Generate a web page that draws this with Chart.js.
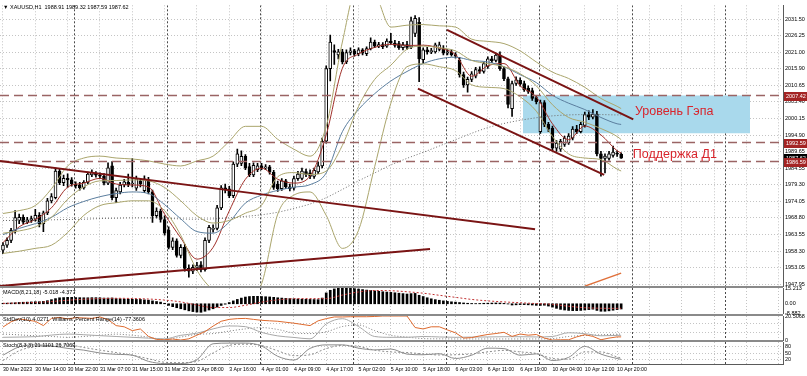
<!DOCTYPE html>
<html><head><meta charset="utf-8">
<script src="https://cdn.jsdelivr.net/npm/chart.js@4.4.0/dist/chart.umd.min.js"></script>
<style>
html,body{margin:0;padding:0;background:#fff;}
#wrap{position:relative;width:807px;height:376px;overflow:hidden;background:#fff;}
#wrap canvas{position:absolute;left:0;top:0;}
.sep{position:absolute;left:0;width:783px;height:2px;background:#8a8a8a;}
</style></head><body>
<div id="wrap">
<canvas id="cMain" width="807" height="376"></canvas>
<canvas id="cMacd" width="807" height="376"></canvas>
<canvas id="cStd" width="807" height="376"></canvas>
<canvas id="cSto" width="807" height="376"></canvas>
<div class="sep" style="top:286px"></div>
<div class="sep" style="top:314px"></div>
<div class="sep" style="top:340px"></div>
</div>
<script>
// ---------------- DATA ----------------
const symbolTitle = '▼ XAUUSD,H1  1988.91 1989.32 1987.59 1987.62';
const timeLabels = ['30 Mar 2023','30 Mar 14:00','30 Mar 22:00','31 Mar 07:00','31 Mar 15:00','31 Mar 23:00','3 Apr 08:00','3 Apr 16:00','4 Apr 01:00','4 Apr 09:00','4 Apr 17:00','5 Apr 02:00','5 Apr 10:00','5 Apr 18:00','6 Apr 03:00','6 Apr 11:00','6 Apr 19:00','10 Apr 04:00','10 Apr 12:00','10 Apr 20:00'];
const priceTicks = [2031.50,2026.25,2021.00,2015.90,2010.65,2005.40,2000.15,1994.90,1989.65,1984.55,1979.30,1974.05,1968.80,1963.55,1958.30,1953.05,1947.95];

const opens = [1958.6,1960.2,1961.7,1964.9,1968.0,1969.0,1967.5,1968.0,1968.4,1969.6,
 1967.0,1970.4,1974.2,1975.2,1983.6,1979.9,1981.3,1980.8,1979.5,1979.2,
 1978.3,1980.0,1982.4,1982.7,1982.3,1982.0,1979.8,1985.2,1975.2,1977.0,
 1979.2,1980.0,1979.5,1978.2,1980.5,1977.4,1980.8,1977.0,1969.5,1971.0,
 1968.3,1965.0,1959.5,1961.6,1957.0,1959.5,1952.9,1952.0,1953.0,1954.0,
 1952.5,1961.7,1965.2,1965.5,1972.0,1978.3,1978.0,1975.8,1985.8,1986.0,
 1988.2,1985.0,1982.4,1984.0,1985.2,1984.6,1984.9,1983.2,1979.5,1978.0,
 1980.5,1978.6,1978.2,1981.2,1981.3,1983.4,1983.0,1981.9,1983.3,1985.2,
 1993.0,2015.9,2021.6,2020.2,2021.2,2018.0,2021.0,2021.5,2020.6,2021.8,
 2020.6,2022.2,2024.3,2023.0,2023.5,2023.0,2024.6,2024.0,2023.8,2022.5,
 2023.5,2022.7,2027.0,2030.5,2018.7,2021.8,2021.2,2021.2,2022.0,2022.4,
 2020.8,2021.2,2020.3,2018.5,2014.0,2010.8,2012.5,2013.5,2015.6,2015.0,
 2016.6,2019.0,2018.5,2020.2,2015.9,2012.7,2003.3,2011.2,2012.2,2011.2,
 2009.8,2009.0,2006.8,1996.0,2005.2,1998.3,1997.1,1990.8,1990.5,1992.0,
 1992.5,1994.0,1996.8,1996.0,1998.0,2001.4,2000.6,2001.6,1989.0,1987.6,
 1987.6,1988.5,1989.3,1988.91];
const highs = [1961.0,1962.5,1965.5,1971.1,1970.0,1969.8,1969.0,1969.4,1971.5,1970.5,
 1971.0,1975.0,1976.5,1984.5,1984.2,1982.3,1982.7,1981.5,1980.2,1980.0,
 1980.6,1983.3,1984.0,1983.4,1983.0,1982.8,1986.2,1986.6,1978.2,1980.0,
 1981.0,1982.6,1987.5,1982.0,1981.3,1982.1,1981.6,1977.6,1972.0,1971.6,
 1969.5,1966.0,1962.5,1962.2,1960.4,1960.5,1954.0,1954.0,1954.8,1955.0,
 1962.5,1966.5,1966.6,1972.8,1979.0,1979.5,1978.8,1986.5,1990.5,1990.0,
 1988.8,1986.0,1986.2,1986.0,1986.0,1985.6,1985.4,1983.8,1980.4,1981.2,
 1981.0,1979.5,1982.0,1983.5,1984.5,1984.2,1984.0,1984.5,1986.5,1994.0,
 2016.8,2026.5,2023.4,2022.0,2022.0,2021.8,2022.5,2022.0,2022.5,2022.2,
 2022.8,2025.6,2024.9,2024.2,2024.1,2025.3,2027.0,2024.8,2024.5,2024.2,
 2024.5,2032.2,2032.6,2032.0,2022.5,2022.6,2022.3,2024.0,2024.3,2023.2,
 2021.9,2021.8,2021.0,2019.5,2014.8,2013.2,2015.0,2016.3,2016.5,2018.0,
 2019.6,2019.8,2020.8,2021.2,2016.4,2013.2,2012.0,2013.3,2013.0,2012.0,
 2010.5,2009.8,2007.5,2006.0,2005.8,1999.0,1997.8,1993.2,1993.6,1994.6,
 1995.4,1997.6,1998.0,1999.0,2002.2,2002.6,2003.0,2002.4,1989.8,1989.0,
 1989.8,1991.5,1990.0,1989.32];
const lows = [1957.5,1959.5,1961.0,1964.0,1967.0,1966.8,1967.0,1967.4,1967.8,1966.0,
 1964.5,1969.8,1973.5,1974.8,1979.3,1979.0,1978.4,1978.8,1978.2,1977.6,
 1977.9,1979.6,1981.8,1981.7,1981.2,1979.2,1979.3,1974.5,1973.6,1976.4,
 1978.6,1978.7,1978.6,1977.5,1978.6,1976.8,1976.4,1967.4,1968.8,1967.5,
 1963.4,1959.0,1958.8,1956.4,1956.2,1952.0,1950.1,1951.2,1952.2,1951.8,
 1952.0,1961.0,1964.3,1965.0,1971.4,1976.7,1975.2,1975.2,1985.0,1985.3,
 1984.0,1981.8,1981.8,1983.4,1984.0,1984.0,1982.6,1977.8,1977.2,1977.5,
 1978.0,1977.3,1977.6,1980.6,1980.8,1981.8,1981.2,1981.3,1982.8,1984.6,
 1992.4,2012.0,2017.2,2019.0,2017.4,2017.5,2020.2,2019.8,2020.0,2020.2,
 2020.0,2021.8,2022.5,2022.5,2022.2,2022.6,2023.5,2022.7,2022.0,2021.8,
 2022.0,2022.2,2026.0,2011.8,2017.5,2020.5,2020.6,2020.8,2021.5,2020.2,
 2020.2,2019.8,2019.2,2013.2,2010.0,2008.5,2011.8,2013.0,2014.4,2014.5,
 2016.0,2017.8,2018.0,2015.3,2012.1,2003.5,2000.8,2010.6,2010.4,2008.7,
 2008.1,2005.9,2004.8,1995.5,1997.6,1996.0,1990.0,1989.8,1989.8,1991.4,
 1992.0,1993.4,1995.4,1995.6,1997.4,1999.8,2000.0,1988.4,1982.0,1983.0,
 1987.0,1988.0,1988.2,1987.59];
const closes = [1960.2,1961.7,1964.9,1968.9,1969.0,1967.5,1968.2,1968.6,1969.6,1967.0,
 1970.4,1974.2,1975.5,1983.6,1979.9,1981.3,1980.8,1979.5,1979.0,1978.3,
 1980.0,1982.6,1983.2,1982.3,1982.0,1979.8,1984.6,1975.2,1977.4,1979.2,
 1980.2,1979.3,1979.8,1981.1,1979.6,1981.1,1977.0,1969.5,1971.0,1968.3,
 1964.0,1959.5,1961.6,1957.0,1959.5,1952.9,1952.0,1953.2,1953.8,1952.5,
 1961.7,1965.8,1965.5,1972.0,1978.3,1977.6,1975.8,1985.8,1989.0,1988.2,
 1984.6,1982.4,1985.4,1985.2,1984.6,1984.9,1983.2,1978.4,1978.0,1980.5,
 1978.6,1978.0,1981.2,1982.6,1983.6,1982.5,1981.9,1983.8,1985.2,1993.0,
 2015.9,2024.3,2021.0,2021.2,2018.0,2021.0,2021.5,2020.6,2021.8,2020.8,
 2022.2,2024.3,2023.0,2023.5,2022.8,2024.6,2024.0,2023.2,2022.5,2023.5,
 2022.6,2031.0,2031.8,2019.0,2021.8,2021.2,2021.6,2023.4,2023.4,2020.8,
 2021.2,2020.3,2019.8,2014.0,2010.8,2012.5,2014.3,2015.6,2015.0,2017.5,
 2019.0,2018.4,2020.2,2015.9,2012.7,2004.6,2011.2,2012.4,2011.0,2009.3,
 2008.7,2006.5,2005.5,2005.2,1998.3,1996.8,1990.8,1992.4,1993.0,1994.0,
 1994.6,1996.8,1996.0,1998.3,2001.4,2000.6,2001.6,1989.0,1987.6,1988.3,
 1989.0,1989.6,1988.9,1987.62];

// indicator lines, read at every 4th bar (and the last bar)
const sIdx4 = [0,4,8,12,16,20,24,28,32,36,40,44,48,52,56,60,64,68,72,76,80,84,88,92,96,100,104,108,112,116,120,124,128,132,136,140,144,148,152,153];
const maFast = [1961,1966,1968.3,1972,1978.5,1979.8,1981.3,1979.5,1979.2,1978.6,1970,1962.5,1955.8,1959.5,1971,1981,1984.5,1981,1979.8,1982,1995,2016,2020.5,2022.6,2023.6,2023.2,2023.3,2022.4,2020.3,2013.5,2016.8,2017.5,2010.5,2007,1998.5,1993.5,1997.8,1995,1990,1989.3];
const maSlow = [1963.5,1965.5,1967,1969,1972,1974,1975.5,1976.5,1977,1976.5,1973,1968.5,1964.5,1964,1967.5,1973.5,1976,1977.5,1978.5,1979.3,1983,1996,2003,2008,2012,2015,2017.5,2019,2019.5,2018.5,2018,2016.5,2014,2011.5,2007.5,2005,2003,2000.5,1998.5,1998.3];
const bbUpper = [1970.2,1971.1,1972.7,1978.0,1985.2,1987.7,1988.3,1987.7,1987.4,1986.8,1985.8,1985.2,1986.8,1988.3,1993.0,1997.7,1997.7,1993.6,1990.5,1988.3,1997.7,2024.3,2043,2040,2029.0,2029.6,2029.8,2029.4,2029.0,2025.2,2024.5,2023.8,2021.5,2018.0,2014.8,2012.8,2010.0,2006.5,2004.0,2003.3];
const bbMiddle = [1964,1964.7,1966,1969,1974.7,1978.6,1980.5,1980.6,1980.8,1980.5,1978.4,1974.2,1969.5,1967.2,1968,1970.3,1972.8,1981.8,1983.1,1982.5,1983.6,1991.7,2004,2012.5,2017,2022,2023,2022.5,2021.5,2018.5,2017.5,2016.5,2014.3,2010.5,2004.5,2000.5,1999,1997,1994.5,1993.5];
const bbLower = [1957.6,1958.3,1959.2,1960.2,1964.2,1969.6,1972.7,1973.6,1974.2,1974.2,1971.1,1963.3,1952.3,1946,1943,1943,1948,1970,1976,1977,1969.6,1959.2,1964.9,1985,2005,2016.5,2017.4,2016.5,2015.3,2010.8,2010,2009.6,2007,2002.5,1994.5,1989,1987.7,1987.2,1984.2,1983.6];
const maLong = [1968,1968,1968,1968.2,1968.3,1968.4,1968.6,1968.7,1968.8,1968.8,1968.7,1968.5,1968.4,1968.5,1968.8,1969.3,1969.8,1970.6,1971.8,1973.2,1975.2,1977.8,1980.5,1983,1985.5,1987.6,1989.5,1991.5,1993.5,1995.5,1997.3,1998.6,1999.6,2000.4,2001,2001.3,2001.4,2001.4,2001.3,2001.3];

// MACD(8,21,18): histogram for every bar, signal at every 4th bar
const macdHist = [0.5,0.6,0.8,1.0,1.3,1.5,1.6,1.8,2.0,2.0,
 2.3,3.0,4.0,5.0,5.8,6.0,6.2,6.2,6.0,5.9,
 5.8,5.8,5.9,5.9,5.8,5.5,5.5,5.6,5.0,4.8,
 4.6,4.5,4.4,4.2,4.2,3.8,3.5,2.8,2.2,1.6,
 0.5,-1.5,-2.8,-3.8,-4.8,-5.8,-6.8,-7.5,-8.0,-8.2,
 -7.2,-6.0,-4.8,-3.2,-1.6,-0.4,1.2,2.8,4.2,5.5,
 6.5,7.0,7.2,7.2,7.0,6.8,6.6,6.2,5.8,5.5,
 5.2,5.0,4.8,4.6,4.4,4.3,4.2,4.1,4.0,5.5,
 10.5,13.0,14.3,15.0,15.2,15.2,15.0,14.6,14.2,13.7,
 13.2,12.8,12.4,12.0,11.6,11.3,11.0,10.6,10.2,9.8,
 9.4,9.8,10.0,8.2,7.0,5.8,4.8,4.0,3.4,2.8,
 2.3,1.9,1.6,1.2,0.8,0.5,0.3,0.2,0.3,0.5,
 0.6,0.7,0.8,0.7,0.4,-0.2,-1.2,-1.0,-0.8,-0.8,
 -1.0,-1.2,-1.5,-1.6,-1.4,-2.2,-3.2,-4.4,-5.4,-6.0,
 -6.4,-6.6,-6.6,-6.4,-6.0,-5.6,-5.2,-6.4,-7.2,-7.2,
 -6.8,-6.2,-5.6,-5.018];
const macdSignal = [0.4,0.8,1.3,2.2,3.4,4.4,5.0,5.3,5.1,4.6,3.6,1.8,-1.2,-3.6,-3.6,-1.4,1.6,3.8,4.9,5.0,5.0,8.4,11.4,12.8,12.6,11.6,10.2,8.2,6.2,4.2,2.8,1.8,1.0,0.2,-0.6,-2.4,-3.8,-4.3,-4.4,-4.377];

// second sub-window: orange oscillator (read every 2nd bar), StdDev lines (every 4th bar)
const sIdx2 = [0,2,4,6,8,10,12,14,16,18,20,22,24,26,28,30,32,34,36,38,40,42,44,46,48,50,52,54,56,58,60,62,64,66,68,70,72,74,76,78,80,82,84,86,88,90,92,94,96,98,100,102,104,106,108,110,112,114,116,118,120,122,124,126,128,130,132,134,136,138,140,142,144,146,148,150,152,153];
const oscOrange = [-46,-24,-12,-17,-22,-40,-10,-6,-12,-7,-8,-10,-4,-15,-40,-45,-61,-54,-85,-98,-99,-96,-100,-95,-80,-65,-42,-22,-14,-11,-10,-14,-18,-20,-22,-26,-30,-35,-40,-20,-11,-4,-4,-3,-3,-3,-2,0,0,0,0,-48,-54,-45,-45,-58,-70,-92,-90,-83,-77,-73,-68,-85,-75,-80,-77,-92,-100,-99,-99,-87,-78,-85,-99,-92,-87,-87];
const stdDevMain = [2.3,2.5,2.9,4.2,5.1,4.5,3.7,3.0,2.3,1.6,1.0,4.0,5.8,9.5,12.0,11.4,6.5,3.5,2.2,1.0,13.7,18.2,11.5,3.0,2.3,2.3,3.0,2.6,2.3,2.5,2.6,2.8,2.8,2.6,3.0,6.2,5.4,3.6,3.9,4.03];
const stdDevDotted = [5.1,4.4,3.6,3.0,2.3,3.0,4.0,5.0,4.0,2.5,0.5,2.5,4.8,5.5,7.6,9.5,10.6,9.0,6.0,5.5,7.0,11.5,12.8,8.0,4.0,2.5,1.2,1.0,0.9,0.9,0.9,0.9,0.9,0.9,1.2,3.0,3.9,4.4,5.0,5.1];

// Stochastic (every 4th bar)
const stochMain = [40,78,87,82,71,63,50,44,40,12,2,2,20,92,95,95,82,35,18,71,87,87,72,64,68,45,42,47,25,40,72,70,40,46,16,30,80,45,25,21.1];
const stochSignal = [16,60,80,86,87,75,63,52,40,24,8,6,12,50,85,90,84,60,38,42,70,85,80,63,55,52,46,41,42,46,55,62,55,48,25,22,55,55,32,26.7];

// chart objects (bar index, price)
const hLevels = [2007.42, 1992.59, 1986.59];
const lastPrice = 1987.62;
const trendLines = [
  [[-0.74,1986.8],[131.7,1965.2]],
  [[-0.74,1947.3],[105.7,1959.0]],
  [[109.9,2028.1],[156.0,1999.9]],
  [[102.7,2009.6],[148.8,1982.4]]
];
const orangeLine = [[144,1947.3],[153,1951.4]];
const gapZone = {from:128.7, to:184.9, top:2007.42, bottom:1995.5};
const notes = [
  {text:'Уровень Гэпа', x:156.4, y:2002.4},
  {text:'Поддержка Д1', x:155.9, y:1988.95}
];
const daySeparators = [17.6,40.6,63.6,86.6,109.6,132.6,155.6,178.6];
const gridIdx = [0,8,16,24,32,40,48,56,64,72,80,88,96,104,112,120,128,136,144,152,160,168,176,184,192];

// ---------------- DRAWING ----------------
const X_MIN = -0.74, X_MAX = 193.06;
const FONT = "'Liberation Sans', Arial, sans-serif";
const SMALL = 5.5;
const GRID = '#c4c4c4', AXIS = '#5a5a5a';

const decor = {
  id:'decor',
  beforeDatasetsDraw(chart, args, o) {
    const {ctx, chartArea:a, scales:{x}} = chart;
    ctx.save();
    ctx.beginPath(); ctx.rect(a.left, a.top, a.right-a.left, a.bottom-a.top); ctx.clip();
    ctx.strokeStyle = '#4a4a4a'; ctx.lineWidth = 1; ctx.setLineDash([2,2]);
    daySeparators.forEach(v => {
      const px = Math.round(x.getPixelForValue(v)) + 0.5;
      ctx.beginPath(); ctx.moveTo(px, a.top); ctx.lineTo(px, a.bottom); ctx.stroke();
    });
    ctx.restore();
  },
  afterDraw(chart, args, o) {
    const {ctx, scales} = chart;
    ctx.save();
    (o.titles||[]).forEach(t => {
      ctx.font = `${SMALL}px ${FONT}`; ctx.fillStyle = '#000'; ctx.textBaseline = 'middle'; ctx.textAlign = 'left';
      ctx.fillText(t.text, t.px, t.py);
    });
    (o.notes||[]).forEach(n => {
      ctx.font = `12.5px ${FONT}`; ctx.fillStyle = '#d8252c'; ctx.textBaseline = 'middle'; ctx.textAlign = 'left';
      ctx.fillText(n.text, scales.x.getPixelForValue(n.x), scales.y.getPixelForValue(n.y));
    });
    (o.boxes||[]).forEach(b => {
      const py = Math.round(scales.y.getPixelForValue(b.v));
      ctx.fillStyle = b.bg; ctx.fillRect(784, py-4, 23, 9);
      ctx.font = `${SMALL}px ${FONT}`; ctx.fillStyle = '#fff'; ctx.textBaseline = 'middle'; ctx.textAlign = 'left';
      ctx.fillText(b.v.toFixed(2), 786, py+0.5);
    });
    ctx.restore();
  }
};

function xAxis(showLabels) {
  return {
    type:'linear', min:X_MIN, max:X_MAX, offset:false,
    afterBuildTicks: s => { s.ticks = gridIdx.map(v => ({value:v})); },
    afterFit: s => { s.height = showLabels ? 12 : 0; },
    ticks:{display:showLabels, autoSkip:false, maxRotation:0, align:'start', padding:2,
      font:{family:FONT, size:5.2}, color:'#000',
      callback: v => (v % 8 === 0 && v/8 < timeLabels.length) ? timeLabels[v/8] : ''},
    grid:{display:true, color:GRID, drawTicks:false, offset:false},
    border:{display:showLabels, color:AXIS, dash:[1,2]}
  };
}
function yAxis(min, max, ticks, fmt, grid, width) {
  return {
    position:'right', min, max,
    afterBuildTicks: s => { s.ticks = ticks.map(v => ({value:v})); },
    afterFit: s => { s.width = width; },
    ticks:{autoSkip:false, padding:2, font:{family:FONT, size:SMALL}, color:'#000', callback: fmt},
    grid:{display:grid, color:GRID, drawTicks:false},
    border:{display:true, color:AXIS, dash:[1,2]}
  };
}
function pts(xs, ys) { return xs.map((x,k) => ({x, y:ys[k]})); }
function line(data, color, extra) {
  return Object.assign({type:'line', data, borderColor:color, borderWidth:1, pointRadius:0, fill:false,
    cubicInterpolationMode:'monotone', clip:0, order:5}, extra||{});
}
const base = {responsive:false, animation:false, devicePixelRatio:1, events:[]};

// ---- main price chart ----
const barIdx = closes.map((_, i) => i);
const wicks = barIdx.map(i => ({x:i, y:[lows[i], highs[i]]}));
const bodies = barIdx.map(i => ({x:i, y:[opens[i], closes[i]]}));
const bodyFill = barIdx.map(i => closes[i] >= opens[i] ? '#ffffff' : '#000000');

const mainSets = [
  line([{x:gapZone.from,y:gapZone.top},{x:gapZone.to,y:gapZone.top}], 'rgba(0,0,0,0)', {borderWidth:0, fill:'+1', backgroundColor:'#a9d9ec', order:60, cubicInterpolationMode:'default'}),
  line([{x:gapZone.from,y:gapZone.bottom},{x:gapZone.to,y:gapZone.bottom}], 'rgba(0,0,0,0)', {borderWidth:0, order:59, cubicInterpolationMode:'default'}),
  {type:'bar', data:wicks, backgroundColor:'#000', borderWidth:0, barThickness:1, grouped:false, order:20},
  {type:'bar', data:bodies, backgroundColor:bodyFill, borderColor:'#000', borderWidth:1, borderSkipped:false, barThickness:3, minBarLength:1, grouped:false, order:19},
  line(pts(sIdx4, bbUpper), '#aaa56c'),
  line(pts(sIdx4, bbMiddle), '#aaa56c'),
  line(pts(sIdx4, bbLower), '#aaa56c'),
  line(pts(sIdx4, maLong), '#6a6a6a', {borderDash:[1,2]}),
  line(pts(sIdx4, maSlow), '#5b7e9e'),
  line(pts(sIdx4, maFast), '#a0302a'),
  line(pts(orangeLine.map(p=>p[0]), orangeLine.map(p=>p[1])), '#e0703a', {borderWidth:1.5, order:1}),
  ...hLevels.map(v => line([{x:X_MIN,y:v},{x:X_MAX,y:v}], '#9a6464', {borderWidth:1.5, borderDash:[9,5], order:1})),
  ...trendLines.map(t => line(pts(t.map(p=>p[0]), t.map(p=>p[1])), '#7a1414', {borderWidth:2, order:0}))
];

new Chart(document.getElementById('cMain'), {
  type:'line', data:{datasets:mainSets}, plugins:[decor],
  options:Object.assign({}, base, {
    layout:{padding:{left:0, right:0, top:3, bottom:90}},
    plugins:{legend:{display:false}, tooltip:{enabled:false},
      decor:{titles:[{text:symbolTitle, px:3, py:7}], notes:notes,
        boxes:[{v:hLevels[0], bg:'#a42424'},{v:hLevels[1], bg:'#a42424'},{v:lastPrice, bg:'#000000'},{v:hLevels[2], bg:'#a42424'}]}},
    scales:{x:xAxis(false), y:yAxis(1947.33, 2035.88, priceTicks, v => v.toFixed(2), true, 24)}
  })
});

// ---- MACD ----
new Chart(document.getElementById('cMacd'), {
  type:'line', plugins:[decor],
  data:{datasets:[
    {type:'bar', data:pts(barIdx, macdHist), backgroundColor:'#000', barThickness:2, grouped:false, order:10},
    line(pts(sIdx4, macdSignal), '#c03030', {borderDash:[2,2]})
  ]},
  options:Object.assign({}, base, {
    layout:{padding:{left:0, right:0, top:288, bottom:63}},
    plugins:{legend:{display:false}, tooltip:{enabled:false},
      decor:{titles:[{text:'MACD(8,21,18) -5.018 -4.377', px:3, py:292}]}},
    scales:{x:xAxis(false), y:yAxis(-8.882, 15.213, [15.213, 0, -8.882], v => v === 0 ? '0.00' : String(v), false, 24)}
  })
});

// ---- oscillator + StdDev ----
new Chart(document.getElementById('cStd'), {
  type:'line', plugins:[decor],
  data:{datasets:[
    line(pts(sIdx4, stdDevMain), '#a8a8a8', {yAxisID:'yS'}),
    line(pts(sIdx4, stdDevDotted), '#7a7a7a', {yAxisID:'yS', borderDash:[1,2]}),
    line(pts(sIdx2, oscOrange), '#de6a2e', {yAxisID:'yW', cubicInterpolationMode:'default', order:3})
  ]},
  options:Object.assign({}, base, {
    layout:{padding:{left:0, right:0, top:316, bottom:36}},
    plugins:{legend:{display:false}, tooltip:{enabled:false},
      decor:{titles:[{text:'StdDev(10) 4.0271  Williams\' Percent Range(14) -77.3606', px:3, py:319}]}},
    scales:{x:xAxis(false),
      yW:Object.assign(yAxis(-100, 0, [-30, -70], v => String(v), true, 0), {weight:0}),
      yS:Object.assign(yAxis(0, 20.5068, [20.5068, 0], v => v === 0 ? '0' : '20.5068', false, 24), {weight:1})}
  })
});

// ---- Stochastic ----
new Chart(document.getElementById('cSto'), {
  type:'line', plugins:[decor],
  data:{datasets:[
    line(pts(sIdx4, stochMain), '#8c8c8c'),
    line(pts(sIdx4, stochSignal), '#8c8c8c', {borderDash:[2,2]})
  ]},
  options:Object.assign({}, base, {
    layout:{padding:{left:0, right:0, top:342, bottom:0}},
    plugins:{legend:{display:false}, tooltip:{enabled:false},
      decor:{titles:[{text:'Stoch(8,3,3) 21.1101 26.7069', px:3, py:345}]}},
    scales:{x:xAxis(true), y:yAxis(0, 100, [80, 50, 20], v => String(v), true, 24)}
  })
});
</script>
</body></html>
